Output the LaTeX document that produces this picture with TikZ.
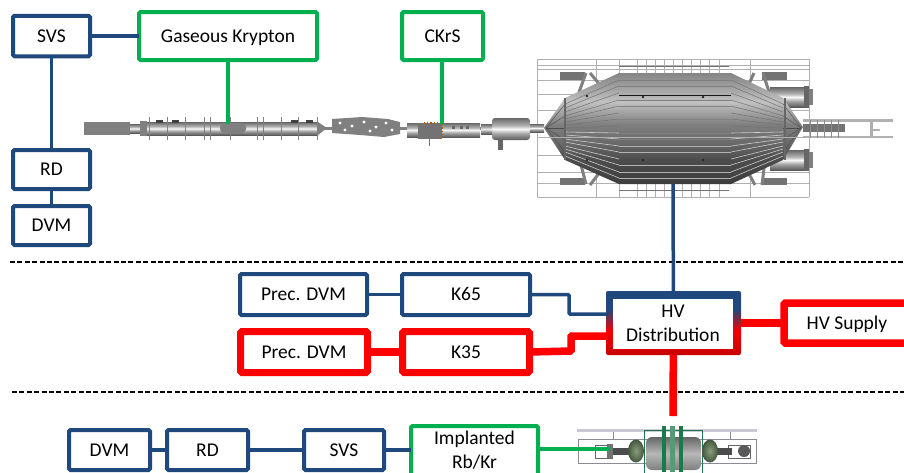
\documentclass[tikz,border=0pt]{standalone}
\usepackage{fontspec}
\setmainfont{Carlito}
\usepackage{xcolor}
\usetikzlibrary{arrows.meta,positioning,calc}
\definecolor{kblue}{HTML}{1F497D}
\definecolor{kgreen}{HTML}{00B050}
\definecolor{kred}{HTML}{FF0000}
\definecolor{kdark}{HTML}{C80000}
\definecolor{ksteel}{HTML}{808080}
\definecolor{kgrid}{HTML}{B0B0B0}
\definecolor{kframe}{HTML}{C8C8D6}
\definecolor{kcoil}{HTML}{1C7A48}
\definecolor{kdish}{HTML}{8C9C7C}
\definecolor{kdishdark}{HTML}{42583E}
\pgfdeclareverticalshading{hvShade}{100bp}{color(0bp)=(kdark); color(25bp)=(kdark); color(44bp)=(kred!80!kdark); color(61bp)=(kblue); color(100bp)=(kblue)}
\pgfdeclareverticalshading{vesselShade}{100bp}{color(0bp)=(black!76); color(25bp)=(black!76); color(36bp)=(black!70); color(44bp)=(black!58); color(52bp)=(black!50); color(62bp)=(black!24); color(68bp)=(black!36); color(75bp)=(black!48); color(100bp)=(black!48)}
\pgfdeclareverticalshading{tubeShade}{100bp}{color(0bp)=(black!65); color(25bp)=(black!65); color(40bp)=(black!35); color(50bp)=(black!3); color(58bp)=(black!30); color(75bp)=(black!60); color(100bp)=(black!60)}
\tikzset{
  blueBox/.style={draw=kblue, line width=4pt, fill=white, rounded corners=1.5pt, align=center, outer sep=0pt, inner sep=0pt, text height=16pt, text depth=4pt, font=\fontsize{19.5}{24}\selectfont},
  greenBox/.style={blueBox, draw=kgreen},
  redBox/.style={blueBox, draw=kred, line width=7pt},
  blueLine/.style={draw=kblue, line width=3.5pt, rounded corners=1pt},
  greenLine/.style={draw=kgreen, line width=3.5pt, rounded corners=1pt},
  redLine/.style={draw=kred, line width=7.5pt, rounded corners=1pt},
  sectionLine/.style={draw=black, line width=1.5pt, dash pattern=on 5pt off 2.4pt},
  gridLine/.style={draw=kgrid, line width=0.7pt},
  ribLine/.style={draw=black!50, line width=0.8pt}
}
\begin{document}
\begin{tikzpicture}[x=1pt,y=-1pt]
  \clip (0,0) rectangle (904,472);
  \fill[white] (0,0) rectangle (904,472);

  % spectrometer grid
  \foreach \y in {59,65,69,80,94,110,127,137,155,172,183,197}
    \draw[gridLine] (537,\y) -- (809,\y);
  \foreach \x in {537,596,619,637,646,655,664,673,682,691,700,709,719,750,809}
    \draw[gridLine] (\x,59) -- (\x,197);
  \draw[black!55, line width=0.8pt] (619,66) -- (729,66) (619,190) -- (729,190);
  % detector end
  \fill[kgrid] (803,119) rectangle (893,122);
  \fill[kgrid] (803,136) rectangle (893,138);
  \fill[kgrid] (870,122) rectangle (873,136);
  \fill[kgrid] (873,129) rectangle (880,131);
  \fill[black!55] (803,124) rectangle (845,132);
  \foreach \x in {810,817,824,831,838}
    \draw[black!45, line width=1pt] (\x,120) -- (\x,138);
  % supports
  \foreach \x/\w in {560/25,762/25}
  {
    \fill[black!55] (\x,72) rectangle ++(\w,8);
    \fill[black!55] (\x,178) rectangle ++(\w,7);
  }
  \draw[black!50, line width=3pt] (586,73) -- (578,95) (590,73) -- (601,86) (754,73) -- (748,86) (763,73) -- (770,95);
  \draw[black!50, line width=3pt] (581,165) -- (586,184) (600,172) -- (590,185) (748,172) -- (755,185) (765,160) -- (762,185);
  % flanged ports
  \foreach \y in {87,150}
  {
    \shade[shading=tubeShade] (770,\y) rectangle (806,\y+20);
    \fill[black!60] (804,\y-1) rectangle (809,\y+21);
    \fill[black!50] (809,\y+2) rectangle (813,\y+18);
  }
  % vessel
  \shade[shading=vesselShade] (544,128) -- (565,98) -- (619,73) -- (731,73) -- (783,98) -- (803,127) -- (783,160) -- (731,184) -- (619,184) -- (565,160) -- cycle;
  \foreach \y in {80,86,100,106,119,126,133,139}
    \draw[black!50, line width=0.5pt] (619,\y) -- (731,\y);
  \foreach \y in {146,152,165,172,178}
    \draw[black!30, line width=0.5pt] (619,\y) -- (731,\y);
  \draw[black!90, line width=1pt] (619,95) -- (731,95);
  \foreach \a/\b in {80/104,86/108,93/112,100/116,106/119,113/122,119/125,126/128}
  {
    \draw[black!55, line width=0.5pt] (565,\b) -- (619,\a);
    \draw[black!55, line width=0.5pt] (731,\a) -- (783,\b);
  }
  \foreach \a/\b in {133/132,139/135,146/139,152/142,159/146,165/149,172/152,178/156}
  {
    \draw[black!20, line width=0.6pt] (565,\b) -- (619,\a);
    \draw[black!20, line width=0.6pt] (731,\a) -- (783,\b);
  }
  \foreach \y in {104,116,128,140,152}
  {
    \draw[black!70, line width=0.4pt] (546,128) -- (565,\y);
    \draw[black!70, line width=0.4pt] (801,128) -- (783,\y);
  }
  \draw[black!60, line width=2.5pt] (565,98) -- (565,160) (785,98) -- (785,160);
  \draw[gridLine] (537,137) -- (809,137);
  \foreach \x/\y in {587/96,643/97,703/97,587/160,643/160,703/160}
    \fill[black!85] (\x,\y) circle (1.4);

  % pre-spectrometer and transport section
  \fill[ksteel] (84,127) rectangle (540,130);
  \shade[shading=tubeShade, rounded corners=3pt] (492,118) rectangle (530,140);
  \fill[black!60] (498,140) rectangle (503,150);
  \shade[shading=tubeShade] (481,124) rectangle (492,134);
  \shade[shading=tubeShade] (530,124) rectangle (544,132);
  \fill[ksteel] (84,122) rectangle (130,135);
  \shade[shading=tubeShade] (130,124) rectangle (140,133);
  \fill[ksteel] (140,121) rectangle (147,136);
  \shade[shading=tubeShade] (147,122) rectangle (318,135);
  \foreach \x in {149,167,185,204,210,230,257,263,281,298,317}
    \draw[ribLine] (\x,117) -- (\x,140);
  \foreach \x in {156,172,291,306}
    \fill[black!75] (\x,120) rectangle ++(7,3);
  \fill[ksteel] (318,122) -- (327,128) -- (318,135) -- cycle;
  \fill[ksteel, rounded corners=4pt] (220,123) rectangle (246,133);
  \fill[ksteel] (332,119) -- (362,117) -- (388,119) -- (400,122) -- (400,134) -- (384,137) -- (360,135) -- (332,133) -- cycle;
  \foreach \x/\y in {340/123,345/130,352/126,364/122,370/131,376/127,386/123,392/130}
    \fill[white] (\x,\y) circle (1.6);
  \shade[shading=tubeShade] (407,123) rectangle (480,137);
  \fill[black!55] (418,123) rectangle (442,139);
  \draw[draw=orange!70!black, line width=1.2pt, dotted] (424,123) -- (442,123) -- (442,138);
  \draw[black!55, line width=1pt] (429,135) -- (429,146);
  \foreach \x in {452,460,466}
    \fill[black!60] (\x,126) rectangle ++(3,3);

  % source image
  \fill[kframe] (577,429) rectangle (757,432);
  \draw[kframe!70!black, line width=1pt] (578,439) rectangle (756,463);
  \draw[kframe!70!black, line width=0.8pt] (613,432) -- (613,439) (730,432) -- (730,439);
  \draw[kframe!50!black, line width=0.8pt] (595,445) rectangle (612,458) (728,445) rectangle (750,458);
  \fill[black!55] (607,444) rectangle (613,458);
  \fill[black!70] (613,448) rectangle (630,455);
  \fill[black!70] (716,448) rectangle (732,455);
  \fill[black!65] (744,451) circle (6);
  \shade[top color=black!60, bottom color=black!50, middle color=black!28, rounded corners=6pt] (646,437) rectangle (701,470);
  \draw[kcoil, line width=1pt] (644,430) rectangle (702,476);
  \foreach \x in {636,710}
    \shade[inner color=kdish, outer color=kdishdark] (\x,451) ellipse (8 and 11.5);
  \foreach \x/\c in {664/kcoil,672.5/kcoil!75,681/kcoil}
    \fill[\c] (\x-2.2,426) rectangle (\x+2.2,472);

  % section lines
  \coordinate (sepAl) at (10,262);
  \coordinate (sepAr) at (904,262);
  \coordinate (sepBl) at (12,392);
  \coordinate (sepBr) at (904,392);
  \draw[sectionLine] (sepAl) -- (sepAr);
  \draw[sectionLine] (sepBl) -- (sepBr);

  % named ends on the images
  \coordinate (beamGas) at (228,124);
  \coordinate (beamCks) at (442,124);
  \coordinate (vesselEnd) at (673,184);
  \coordinate (hvInA) at (608,314);
  \coordinate (hvInB) at (608,336);
  \coordinate (hvDown) at (673,416);
  \coordinate (sourceIn) at (610,449);

  % boxes, top row
  \node[blueBox, minimum width=77, minimum height=40.5] (svsTop) at (51.5,36){SVS};
  \node[greenBox, minimum width=178, minimum height=48] (gasKr) at (228,36){Gaseous Krypton};
  \node[greenBox, minimum width=81, minimum height=48] (ckrs) at (442.5,36){CKrS};
  \node[blueBox, minimum width=77, minimum height=39] (rdTop) at (51.5,169.5){RD};
  \node[blueBox, minimum width=77, minimum height=39] (dvmTop) at (51.5,225.5){DVM};

  % high voltage
  \node[blueBox, minimum width=127, minimum height=41] (precA) at (303.5,294.5){Prec. DVM};
  \node[blueBox, minimum width=128, minimum height=41] (kSixtyFive) at (466,294.5){K65};
  \node[redBox, minimum width=127, minimum height=41] (precB) at (304,352){Prec. DVM};
  \node[redBox, minimum width=127, minimum height=41] (kThirtyFive) at (466,352){K35};
  \node[redBox, minimum width=126, minimum height=40, line width=7.5pt] (hvSupply) at (847,323){HV Supply};
  \node[rounded corners=2pt, shading=hvShade, minimum width=135, minimum height=64, outer sep=0pt] (hvOuter) at (673.5,323){};
  \node[fill=white, minimum width=120, minimum height=50, align=center, outer sep=0pt, inner sep=0pt, font=\fontsize{19.5}{24}\selectfont] (hvDist) at (673,323.5){HV\\Distribution};

  % boxes, bottom row
  \node[blueBox, minimum width=81, minimum height=40] (dvmLow) at (109.5,450){DVM};
  \node[blueBox, minimum width=81, minimum height=40] (rdLow) at (207.5,450){RD};
  \node[blueBox, minimum width=80, minimum height=40] (svsLow) at (344,450){SVS};
  \node[greenBox, minimum width=127, minimum height=50, text height=35pt, text depth=0pt] (implant) at (474.5,451){Implanted\\Rb/Kr};

  % connectors
  \draw[blueLine] (svsTop) -- (gasKr);
  \draw[blueLine] (svsTop) -- (rdTop);
  \draw[blueLine] (rdTop) -- (dvmTop);
  \draw[greenLine] (gasKr) -- (beamGas);
  \draw[greenLine] (ckrs.south -| beamCks) -- (beamCks);
  \draw[blueLine] (vesselEnd) -- (hvOuter);
  \draw[blueLine] (precA) -- (kSixtyFive);
  \draw[redLine] (precB) -- (kThirtyFive);
  \draw[blueLine] (kSixtyFive.east) -- (569,294.5) -- (569,314) -- (hvInA);
  \draw[redLine] (kThirtyFive.east) -- (571,351) -- (571,336) -- (hvInB);
  \draw[redLine] (hvOuter) -- (hvSupply);
  \draw[redLine] (hvOuter) -- (hvDown);
  \draw[blueLine] (dvmLow) -- (rdLow);
  \draw[blueLine] (rdLow) -- (svsLow);
  \draw[blueLine] (svsLow) -- (implant.west |- svsLow);
  \draw[greenLine] (implant.east |- sourceIn) -- (sourceIn);
\end{tikzpicture}
\end{document}
